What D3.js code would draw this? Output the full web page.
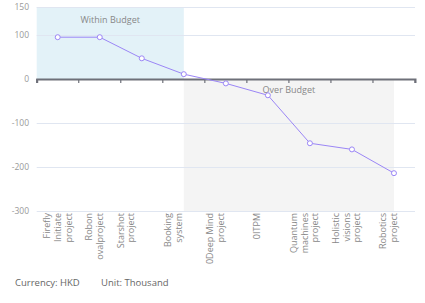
<!DOCTYPE html>
<html>
<head>
<meta charset="utf-8">
<script src="https://cdn.jsdelivr.net/npm/d3@7/dist/d3.min.js"></script>
<style>
  html, body { margin: 0; padding: 0; background: #fff; }
  svg { display: block; font-family: "Open Sans", "Noto Sans", sans-serif; }
</style>
</head>
<body>
<svg id="chart" width="425" height="303"></svg>
<script>
// ---- data ----
const categories = [
  "Firefly Initiate project", "Robonovalproject", "Starshot project", "Booking system",
  "0Deep Mind project", "0ITPM", "Quantum machines project", "Holistic visions project", "Robotics project"
];
const xTickLabels = [
  "Firefly\nInitiate\nproject",
  "Robon\novalproject\n",
  "Starshot\nproject\n\n\n",
  "Booking\nsystem\n\n",
  "0Deep Mind\nproject\n\n",
  "0ITPM\n\n",
  "Quantum\nmachines\nproject\n",
  "Holistic\nvisions\nproject\n",
  "Robotics\nproject\n"
];
const budgetVariance = [95, 95, 47, 11, -10, -37, -146, -160, -214];
const yTickValues = [150, 100, 0, -100, -200, -300];
const yTickLabels = ["150", "100", "0", "-100", "-200", "-300"];
const withinBudget = { label: "Within Budget", from: null, to: "Booking system", yFrom: 0, yTo: 150 };
const overBudget = { label: "Over Budget", from: "Booking system", to: "Robotics project", yFrom: 0, yTo: -300 };
const footnotes = ["Currency: HKD", "Unit: Thousand"];

// ---- layout ----
const svg = d3.select("#chart");
const plot = { left: 36.7, right: 415, top: 7, bottom: 211 };

const x = d3.scaleBand().domain(categories).range([plot.left, plot.right]).padding(0);
const xc = c => x(c) + x.bandwidth() / 2;
const y = d3.scaleLinear().domain([-300, 100, 150]).range([plot.bottom, 35, plot.top]);

// mark areas
const ax0 = withinBudget.from ? xc(withinBudget.from) : plot.left;
const ax1 = xc(withinBudget.to);
svg.append("rect")
  .attr("x", ax0).attr("y", y(withinBudget.yTo))
  .attr("width", ax1 - ax0).attr("height", y(withinBudget.yFrom) - y(withinBudget.yTo))
  .attr("fill", "#e3f2f8");
const bx0 = xc(overBudget.from), bx1 = xc(overBudget.to);
svg.append("rect")
  .attr("x", bx0).attr("y", y(overBudget.yFrom))
  .attr("width", bx1 - bx0).attr("height", y(overBudget.yTo) - y(overBudget.yFrom))
  .attr("fill", "#f4f4f4");

// gridlines
svg.append("g").selectAll("line")
  .data(yTickValues.filter(v => v !== 0))
  .join("line")
  .attr("x1", plot.left).attr("x2", plot.right)
  .attr("y1", d => Math.round(y(d)) + 0.5).attr("y2", d => Math.round(y(d)) + 0.5)
  .attr("stroke", "#e0e6f1").attr("stroke-width", 1);

// y labels
svg.append("g").selectAll("text")
  .data(yTickValues)
  .join("text")
  .attr("x", 29).attr("y", d => y(d))
  .attr("dy", "0.35em")
  .attr("text-anchor", "end")
  .attr("font-size", 8.5)
  .attr("fill", "#999")
  .text((d, i) => yTickLabels[i]);

// mark area labels
svg.append("text")
  .attr("x", (ax0 + ax1) / 2).attr("y", y(withinBudget.yTo) + 13)
  .attr("dy", "0.35em").attr("text-anchor", "middle")
  .attr("font-size", 9).attr("fill", "#888")
  .text(withinBudget.label);
svg.append("text")
  .attr("x", (bx0 + bx1) / 2).attr("y", y(overBudget.yFrom) + 11)
  .attr("dy", "0.35em").attr("text-anchor", "middle")
  .attr("font-size", 9).attr("fill", "#888")
  .text(overBudget.label);

// x axis at zero
const xAxis = d3.axisBottom(x).tickSize(4).tickFormat("");
const gx = svg.append("g").attr("transform", `translate(0,${y(0)})`).call(xAxis);
gx.select(".domain").attr("stroke", "#6e7079").attr("stroke-width", 2);
gx.selectAll(".tick").remove();
const tickPos = categories.map(c => x(c)).concat([plot.right]);
gx.selectAll("line.tk").data(tickPos).join("line")
  .attr("class", "tk")
  .attr("x1", d => d).attr("x2", d => d)
  .attr("y1", 0).attr("y2", 4)
  .attr("stroke", "#6e7079").attr("stroke-width", 1.2);

// x labels (rotated, multi-line)
const fs = 9, lh = 10.7;
const lg = svg.append("g");
categories.forEach((c, i) => {
  const lines = xTickLabels[i].split("\n");
  const n = lines.length;
  const t = lg.append("text")
    .attr("transform", `translate(${xc(c)},213) rotate(-90)`)
    .attr("text-anchor", "end")
    .attr("font-size", fs)
    .attr("fill", "#888");
  lines.forEach((ln, j) => {
    t.append("tspan")
      .attr("x", 0)
      .attr("y", (j - (n - 1) / 2) * lh + 0.35 * fs)
      .text(ln);
  });
});

// line series
const line = d3.line().x((d, i) => xc(categories[i])).y(d => y(d));
svg.append("path")
  .datum(budgetVariance)
  .attr("d", line)
  .attr("fill", "none")
  .attr("stroke", "#9b86f6")
  .attr("stroke-width", 1);
svg.append("g").selectAll("circle")
  .data(budgetVariance)
  .join("circle")
  .attr("cx", (d, i) => xc(categories[i]))
  .attr("cy", d => y(d))
  .attr("r", 2.5)
  .attr("fill", "#fff")
  .attr("stroke", "#9b86f6")
  .attr("stroke-width", 1);

// footnotes
svg.append("text").attr("x", 15).attr("y", 286).attr("font-size", 9.5).attr("fill", "#666").text(footnotes[0]);
svg.append("text").attr("x", 101).attr("y", 286).attr("font-size", 9.5).attr("fill", "#666").text(footnotes[1]);
</script>
</body>
</html>
